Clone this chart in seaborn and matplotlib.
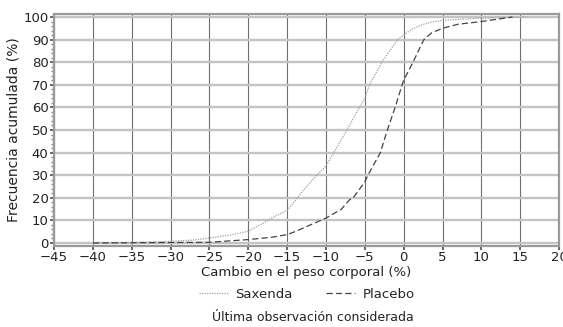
import matplotlib
matplotlib.use("Agg")
import matplotlib.pyplot as plt
import numpy as np
import pandas as pd
import seaborn as sns
from matplotlib.lines import Line2D
from matplotlib.ticker import MultipleLocator

sns.set_theme(style="white")
plt.rcParams["font.family"] = ["DejaVu Sans"]

# cumulative distribution
saxenda_x = [-40, -35, -30, -27, -25, -22, -20, -18, -17, -15, -14, -13, -11.2, -10,
             -9, -7.3, -5.7, -5, -4.4, -2.8, -0.8, 0, 1, 2.3, 3.5, 5, 10, 16]
saxenda_y = [0, 0.2, 0.7, 1.3, 2.2, 3.7, 5.2, 8.9, 11, 14.5, 18.5, 23, 30, 34,
             40, 50, 60, 64, 70, 80, 90, 92, 94.5, 96.5, 97.7, 98.5, 99.5, 100]
placebo_x = [-40, -35, -30, -25, -20, -17, -15, -14, -12, -10, -8, -7, -6.5, -5,
             -4.6, -3, -2.1, -1.1, -0.2, 0, 1.2, 2.6, 3.6, 5, 7, 10, 14]
placebo_y = [0, 0.1, 0.2, 0.3, 1.5, 2.5, 3.7, 5, 8, 11, 15, 19, 20, 27,
             30, 40, 50, 60, 70, 72, 80, 90, 93, 95, 96.8, 98, 100]
x_ticks = list(range(-45, 25, 5))
y_ticks = list(range(0, 110, 10))

df = pd.concat([
    pd.DataFrame({"cambio": saxenda_x, "frecuencia": saxenda_y, "grupo": "Saxenda"}),
    pd.DataFrame({"cambio": placebo_x, "frecuencia": placebo_y, "grupo": "Placebo"}),
])

fig = plt.figure(figsize=(5.63, 3.27), dpi=100)
ax = fig.add_axes([0.096, 0.248, 0.897, 0.709])

# grid first so the curves sit on top
for v in x_ticks:
    ax.axvline(v, color="#6e6e6e", lw=0.8, zorder=0)
for h in y_ticks:
    ax.axhline(h, color="#c4c4c4", lw=1.7, zorder=0)

sns.lineplot(
    data=df, x="cambio", y="frecuencia", hue="grupo", style="grupo",
    palette={"Saxenda": "#a0a0a0", "Placebo": "#444444"},
    dashes={"Saxenda": (1, 1), "Placebo": (5, 2.5)},
    sort=False, estimator=None, lw=0.9, ax=ax, legend=False,
)

ax.set_xlim(-45, 20)
ax.set_ylim(-1.3, 101.3)
ax.set_xticks(x_ticks)
ax.set_yticks(y_ticks)
ax.yaxis.set_minor_locator(MultipleLocator(2))
ax.tick_params(axis="both", labelsize=9.5, colors="#222222", length=3, pad=1)
ax.tick_params(axis="y", which="minor", length=2, color="#888888", left=True)
ax.tick_params(axis="y", which="major", left=True, color="#555555")
ax.tick_params(axis="x", which="major", bottom=True, color="#555555")
for s in ax.spines.values():
    s.set_color("#9a9a9a")
    s.set_linewidth(1.6)

ax.set_xlabel("Cambio en el peso corporal (%)", fontsize=9.5, color="#222222", labelpad=1)
ax.set_ylabel("Frecuencia acumulada (%)", fontsize=10, color="#222222", labelpad=2,
              family=["Liberation Sans Narrow", "DejaVu Sans"])

# legend below the axis label
handles = [
    Line2D([], [], color="#a0a0a0", lw=0.9, dashes=(1, 1)),
    Line2D([], [], color="#444444", lw=0.9, dashes=(5, 2.5)),
]
fig.legend(handles, ["Saxenda", "Placebo"], loc="center", bbox_to_anchor=(0.545, 0.1),
           ncol=2, frameon=False, fontsize=9.5, handlelength=2.2, columnspacing=2.5,
           handletextpad=0.6)
fig.text(0.555, 0.028, "Última observación considerada", ha="center", va="center",
         fontsize=9, color="#222222")

fig.savefig("out.png", dpi=100)
